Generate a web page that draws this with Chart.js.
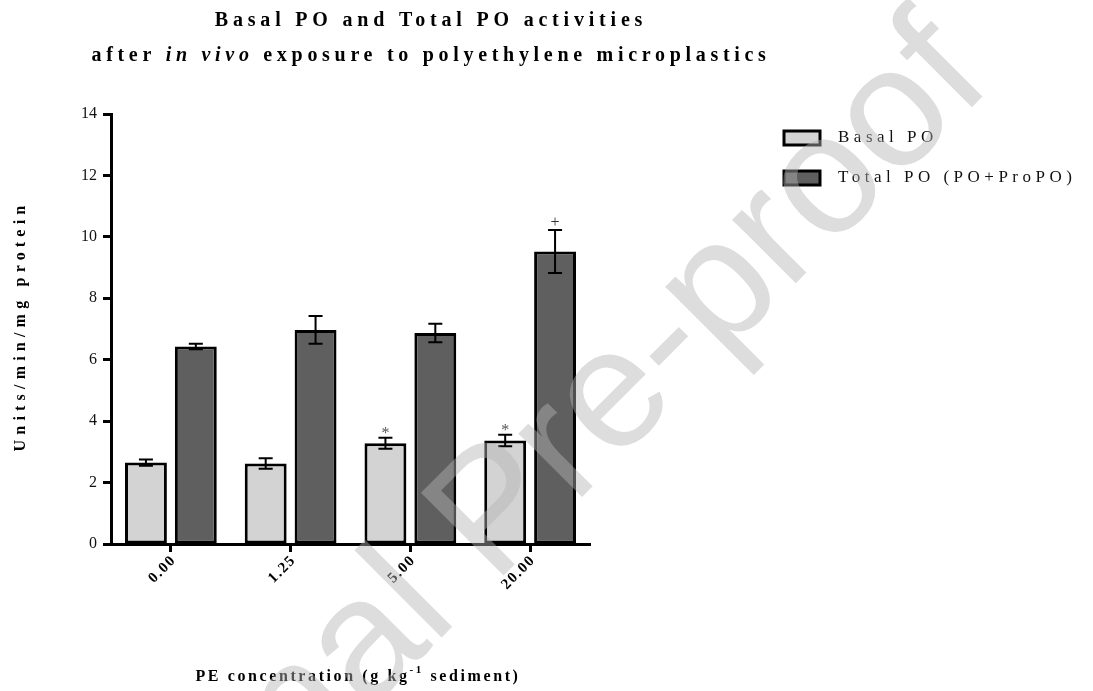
<!DOCTYPE html>
<html>
<head>
<meta charset="utf-8">
<script src="https://cdn.jsdelivr.net/npm/chart.js@4.4.1/dist/chart.umd.min.js"></script>
<style>
  html, body { margin: 0; padding: 0; background: #fff; }
  #wrap { width: 1093px; height: 691px; position: relative; }
</style>
</head>
<body>
<div id="wrap"><canvas id="poChart"></canvas></div>
<script>
// data
const concentrations = ["0.00", "1.25", "5.00", "20.00"];
const basalPO = [2.65, 2.62, 3.28, 3.37];
const basalErr = [0.10, 0.17, 0.18, 0.19];
const totalPO = [6.43, 6.97, 6.87, 9.52];
const totalErr = [0.09, 0.45, 0.30, 0.70];
const basalMarks = ["", "", "*", "*"];
const totalMarks = ["", "", "", "+"];
const yTicks = [0, 2, 4, 6, 8, 10, 12, 14];

const SERIF = '"Liberation Serif", "Times New Roman", serif';

function spacedWidth(ctx, parts, spacing) {
  let w = 0;
  parts.forEach(p => {
    ctx.font = p.font;
    ctx.letterSpacing = spacing + "px";
    w += ctx.measureText(p.text).width;
  });
  return w;
}

// draws runs of text with letter spacing, left/center aligned
function drawRuns(ctx, parts, x, y, spacing, align) {
  ctx.textBaseline = "middle";
  ctx.textAlign = "left";
  const w = spacedWidth(ctx, parts, spacing);
  let cx = align === "center" ? x - w / 2 : align === "right" ? x - w : x;
  parts.forEach(p => {
    ctx.font = p.font;
    ctx.letterSpacing = spacing + "px";
    const dy = p.dy || 0;
    ctx.fillText(p.text, cx, y + dy);
    cx += ctx.measureText(p.text).width;
  });
  ctx.letterSpacing = "0px";
}

/* =========================
   DECORATION PLUGINS
========================= */

const errorBars = {
  id: "errorBars",
  afterDatasetsDraw(chart) {
    const { ctx } = chart;
    const yScale = chart.scales.y;
    const errs = [basalErr, totalErr];
    const marks = [basalMarks, totalMarks];
    ctx.save();
    chart.data.datasets.forEach((ds, di) => {
      const meta = chart.getDatasetMeta(di);
      meta.data.forEach((bar, i) => {
        const v = ds.data[i];
        const e = errs[di][i];
        const yTop = yScale.getPixelForValue(v + e);
        const yBot = yScale.getPixelForValue(v - e);
        const x = bar.x;
        ctx.strokeStyle = "#000";
        ctx.lineWidth = 2;
        ctx.beginPath();
        ctx.moveTo(x, yTop); ctx.lineTo(x, yBot);
        ctx.moveTo(x - 7, yTop); ctx.lineTo(x + 7, yTop);
        ctx.moveTo(x - 7, yBot); ctx.lineTo(x + 7, yBot);
        ctx.stroke();

        const m = marks[di][i];
        if (m) {
          ctx.fillStyle = m === "*" ? "#555" : "#333";
          ctx.font = "16px " + SERIF;
          ctx.textAlign = "center";
          ctx.textBaseline = "alphabetic";
          ctx.fillText(m, x, yTop - (m === "*" ? 0 : 3));
        }
      });
    });
    ctx.restore();
  }
};

const textLayer = {
  id: "textLayer",
  afterDraw(chart) {
    const { ctx } = chart;
    const xScale = chart.scales.x;
    ctx.save();
    ctx.fillStyle = "#000";

    // title
    const tb = "bold 20px " + SERIF;
    const ti = "italic bold 20px " + SERIF;
    drawRuns(ctx, [{ text: "Basal PO and Total PO activities", font: tb }], 431, 21, 4.8, "center");
    drawRuns(ctx, [
      { text: "after ", font: tb },
      { text: "in vivo", font: ti },
      { text: " exposure to polyethylene microplastics", font: tb }
    ], 431, 56, 4.7, "center");

    // x tick labels (rotated)
    concentrations.forEach((lab, i) => {
      const x = xScale.getPixelForValue(i);
      ctx.save();
      ctx.translate(x + 3, xScale.top + 14);
      ctx.rotate(-Math.PI / 4);
      ctx.font = "bold 15px " + SERIF;
      ctx.letterSpacing = "1.5px";
      ctx.textAlign = "right";
      ctx.textBaseline = "middle";
      ctx.fillText(lab, 0, 0);
      ctx.restore();
    });

    // x axis title with superscript
    const xb = "bold 16px " + SERIF;
    drawRuns(ctx, [
      { text: "PE concentration (g kg", font: xb },
      { text: "-1", font: "bold 11px " + SERIF, dy: -7 },
      { text: " sediment)", font: xb }
    ], 358, 677, 2.6, "center");

    // y axis title
    ctx.save();
    ctx.translate(21, 326);
    ctx.rotate(-Math.PI / 2);
    drawRuns(ctx, [{ text: "Units/min/mg protein", font: "bold 16px " + SERIF }], 0, 0, 5.2, "center");
    ctx.restore();

    // legend
    const items = chart.data.datasets;
    items.forEach((ds, i) => {
      const y = 138 + i * 40;
      ctx.fillStyle = ds.backgroundColor;
      ctx.fillRect(784, y - 7, 36, 14);
      ctx.strokeStyle = "#000";
      ctx.lineWidth = 3;
      ctx.strokeRect(784, y - 7, 36, 14);
      ctx.fillStyle = "#111";
      drawRuns(ctx, [{ text: ds.label, font: "17px " + SERIF }], 838, y, 4.5, "left");
    });

    // watermark
    ctx.save();
    ctx.translate(66, 1013);
    ctx.rotate(-45 * Math.PI / 180);
    ctx.font = '170px "Liberation Sans", Arial, sans-serif';
    ctx.letterSpacing = "0px";
    ctx.textAlign = "left";
    ctx.textBaseline = "alphabetic";
    ctx.fillStyle = "rgba(180,180,180,0.45)";
    ctx.fillText("Journal Pre-proof", 0, 0);
    ctx.restore();

    ctx.restore();
  }
};

/* =========================
   CHART
========================= */

const ctx = document.getElementById("poChart").getContext("2d");

new Chart(ctx, {
  type: "bar",
  data: {
    labels: concentrations,
    datasets: [
      {
        label: "Basal PO",
        data: basalPO,
        backgroundColor: "#d3d3d3",
        borderColor: "#000",
        borderWidth: 3,
        borderSkipped: false,
        categoryPercentage: 0.833,
        barPercentage: 0.84
      },
      {
        label: "Total PO (PO+ProPO)",
        data: totalPO,
        backgroundColor: "#5f5f5f",
        borderColor: "#000",
        borderWidth: 3,
        borderSkipped: false,
        categoryPercentage: 0.833,
        barPercentage: 0.84
      }
    ]
  },
  options: {
    responsive: true,
    maintainAspectRatio: false,
    animation: false,
    devicePixelRatio: 1,
    layout: { padding: { top: 114, right: 503, left: 0, bottom: 0 } },
    plugins: {
      legend: { display: false },
      title: { display: false },
      tooltip: { enabled: false }
    },
    scales: {
      x: {
        grid: {
          display: true,
          drawOnChartArea: false,
          offset: false,
          tickLength: 8,
          tickWidth: 3,
          tickColor: "#000"
        },
        border: { display: true, color: "#000", width: 3 },
        ticks: { display: false },
        afterFit(scale) { scale.height = 147; }
      },
      y: {
        min: 0,
        max: 14,
        afterBuildTicks(scale) { scale.ticks = yTicks.map(v => ({ value: v })); },
        grid: {
          drawOnChartArea: false,
          tickLength: 8,
          tickWidth: 3,
          tickColor: "#000"
        },
        border: { display: true, color: "#000", width: 3 },
        ticks: {
          color: "#111",
          padding: 6,
          font: { family: SERIF, size: 16 }
        },
        afterFit(scale) { scale.width = 111; }
      }
    }
  },
  plugins: [errorBars, textLayer]
});
</script>
</body>
</html>
